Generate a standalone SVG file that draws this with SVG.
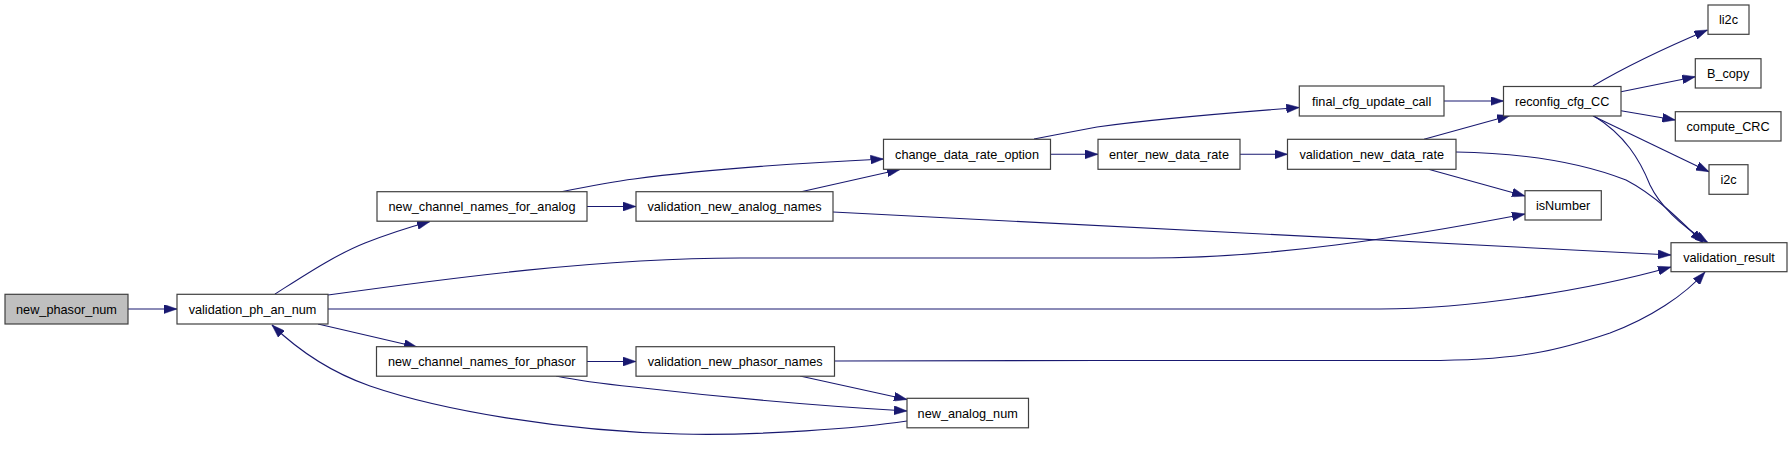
<svg xmlns="http://www.w3.org/2000/svg" width="1792" height="449" viewBox="0 0 1792 449">
<style>
.n rect{fill:#ffffff;stroke:#404040;stroke-width:1.2}
.n.root rect{fill:#bfbfbf}
.n text{font-family:"Liberation Sans",Arial,sans-serif;font-size:12.7px;fill:#000;text-anchor:middle}
.e path{fill:none;stroke:#191970;stroke-width:1.1;marker-end:url(#ah)}
</style>
<defs>
<marker id="ah" viewBox="0 0 13 9" refX="13" refY="4.5" markerWidth="13" markerHeight="9" markerUnits="userSpaceOnUse" orient="auto">
<path d="M0,0 L13,4.5 L0,9 Z" fill="#191970" stroke="#191970" stroke-width="0.5"/>
</marker>
</defs>
<rect x="0" y="0" width="1792" height="449" fill="#ffffff"/>
<g id="edges" class="e">
<path d="M128,309 L177,309"/>
<path d="M275,294 C305,275 335,255 365,243 C388,234 410,227 430,221.5"/>
<path d="M328,295 C450,278 600,258 740,258 L1150,258 C1270,258 1400,238 1525,214"/>
<path d="M328,309 L1380,309 C1470,309 1590,290 1671,267"/>
<path d="M318,324 L417,347"/>
<path d="M587,206.5 L636,206.5"/>
<path d="M587,361.5 L636,361.5"/>
<path d="M560,192 C590,186 610,182 634,179 C700,170 800,163 883.5,159"/>
<path d="M800,192 L900,169.5"/>
<path d="M833,212 L1671,255"/>
<path d="M835,361 C1000,360.5 1300,360 1420,360.5 C1520,361 1560,350 1610,333 C1650,318 1685,295 1705,272"/>
<path d="M800,376 L907,399.5"/>
<path d="M556,376 C580,381 605,384 634,387 C720,397 820,406 907,411"/>
<path d="M907,421 C860,428 760,436 680,434 C560,431 440,410 370,386 C330,372 300,352 272,325"/>
<path d="M1050.5,154.3 L1098,154.3"/>
<path d="M1240,154.3 L1287.5,154.3"/>
<path d="M1034,139 C1055,135 1075,131 1097,127 C1160,118 1240,112 1299.3,107.5"/>
<path d="M1444,101 L1503.5,101"/>
<path d="M1424,139.3 L1510,115.5"/>
<path d="M1428.5,169.3 L1525,196"/>
<path d="M1456,152 C1520,153 1580,162 1626,180 C1655,195 1680,220 1703,242.7"/>
<path d="M1593,86 C1625,67 1660,50 1707.5,30"/>
<path d="M1621,91.7 L1695.3,76.7"/>
<path d="M1621,110.7 L1675.3,120"/>
<path d="M1593,116 L1709,171.7"/>
<path d="M1594,116 C1625,135 1640,160 1650,185 C1662,210 1685,228 1708,242.7"/>
</g>
<g id="new_phasor_num" class="n root"><rect x="5" y="294.3" width="123" height="29.7"/><text x="66.5" y="313.6">new_phasor_num</text></g>
<g id="validation_ph_an_num" class="n"><rect x="177" y="294.3" width="151" height="29.7"/><text x="252.5" y="313.6">validation_ph_an_num</text></g>
<g id="new_channel_names_for_analog" class="n"><rect x="377" y="191.7" width="210" height="29.5"/><text x="482" y="210.9">new_channel_names_for_analog</text></g>
<g id="validation_new_analog_names" class="n"><rect x="636" y="191.7" width="197" height="29.5"/><text x="734.5" y="210.9">validation_new_analog_names</text></g>
<g id="new_channel_names_for_phasor" class="n"><rect x="376.5" y="346.7" width="210.5" height="29.5"/><text x="481.7" y="365.9">new_channel_names_for_phasor</text></g>
<g id="validation_new_phasor_names" class="n"><rect x="636" y="346.7" width="198.5" height="29.5"/><text x="735.2" y="365.9">validation_new_phasor_names</text></g>
<g id="new_analog_num" class="n"><rect x="907" y="398.3" width="121.5" height="29.5"/><text x="967.7" y="417.5">new_analog_num</text></g>
<g id="change_data_rate_option" class="n"><rect x="883.5" y="139.3" width="167" height="30"/><text x="967" y="158.8">change_data_rate_option</text></g>
<g id="enter_new_data_rate" class="n"><rect x="1098" y="139.3" width="142" height="30"/><text x="1169" y="158.8">enter_new_data_rate</text></g>
<g id="validation_new_data_rate" class="n"><rect x="1287.5" y="139.3" width="168.5" height="30"/><text x="1371.7" y="158.8">validation_new_data_rate</text></g>
<g id="final_cfg_update_call" class="n"><rect x="1299.3" y="86" width="144.7" height="30"/><text x="1371.6" y="105.5">final_cfg_update_call</text></g>
<g id="reconfig_cfg_CC" class="n"><rect x="1503.5" y="86.5" width="117.5" height="29.5"/><text x="1562.2" y="105.7">reconfig_cfg_CC</text></g>
<g id="li2c" class="n"><rect x="1708" y="5" width="41" height="29.3"/><text x="1728.5" y="24.1">li2c</text></g>
<g id="B_copy" class="n"><rect x="1695.3" y="58.7" width="65.7" height="29.3"/><text x="1728.1" y="77.8">B_copy</text></g>
<g id="compute_CRC" class="n"><rect x="1675.3" y="111.7" width="105.7" height="29.3"/><text x="1728.1" y="130.8">compute_CRC</text></g>
<g id="i2c" class="n"><rect x="1709" y="164.7" width="39" height="29.6"/><text x="1728.5" y="184">i2c</text></g>
<g id="isNumber" class="n"><rect x="1525" y="190.7" width="76.3" height="29.3"/><text x="1563.1" y="209.8">isNumber</text></g>
<g id="validation_result" class="n"><rect x="1671" y="242.7" width="116" height="29"/><text x="1729" y="261.7">validation_result</text></g>
</svg>
